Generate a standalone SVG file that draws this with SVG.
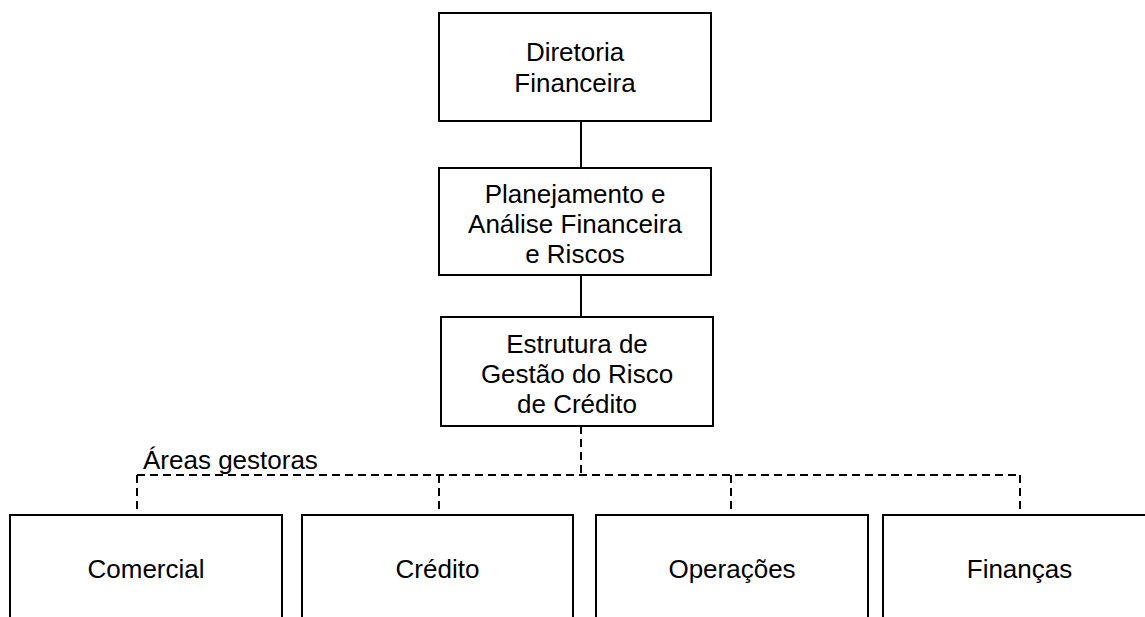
<svg xmlns="http://www.w3.org/2000/svg" width="1145" height="617" viewBox="0 0 1145 617">
<style>
.box{fill:#fff;stroke:#000;stroke-width:2}
.t{font-family:"Liberation Sans",Arial,sans-serif;font-size:26px;fill:#000;text-anchor:middle}
.solid{fill:none;stroke:#000;stroke-width:2}
.dash{fill:none;stroke:#000;stroke-width:2;stroke-dasharray:8 5}
</style>
<rect width="1145" height="617" fill="#fff"/>
<g id="connectors">
<line class="solid" x1="581" y1="121" x2="581" y2="168"/>
<line class="solid" x1="581" y1="275" x2="581" y2="317"/>
<polyline class="dash" points="581,426 581,475"/>
<line class="dash" x1="137" y1="475" x2="1020" y2="475"/>
<line class="dash" x1="137" y1="475" x2="137" y2="515"/>
<line class="dash" x1="439" y1="475" x2="439" y2="515"/>
<line class="dash" x1="731" y1="475" x2="731" y2="515"/>
<line class="dash" x1="1020" y1="475" x2="1020" y2="515"/>
</g>
<text class="t" x="143" y="469" style="text-anchor:start">Áreas gestoras</text>
<g id="diretoria">
<rect class="box" x="439" y="13" width="272" height="108"/>
<text class="t" x="575" y="61">Diretoria</text>
<text class="t" x="575" y="92">Financeira</text>
</g>
<g id="planejamento">
<rect class="box" x="439" y="168" width="272" height="107"/>
<text class="t" x="575" y="203">Planejamento e</text>
<text class="t" x="575" y="233">Análise Financeira</text>
<text class="t" x="575" y="263">e Riscos</text>
</g>
<g id="estrutura">
<rect class="box" x="441" y="317" width="272" height="109"/>
<text class="t" x="577" y="353">Estrutura de</text>
<text class="t" x="577" y="383">Gestão do Risco</text>
<text class="t" x="577" y="413">de Crédito</text>
</g>
<g id="comercial">
<rect class="box" x="10" y="515" width="272" height="130"/>
<text class="t" x="146" y="578">Comercial</text>
</g>
<g id="credito">
<rect class="box" x="302" y="515" width="271" height="130"/>
<text class="t" x="437.5" y="578">Crédito</text>
</g>
<g id="operacoes">
<rect class="box" x="596" y="515" width="272" height="130"/>
<text class="t" x="732" y="578">Operações</text>
</g>
<g id="financas">
<rect class="box" x="883" y="515" width="272" height="130"/>
<text class="t" x="1019.5" y="578">Finanças</text>
</g>
</svg>
